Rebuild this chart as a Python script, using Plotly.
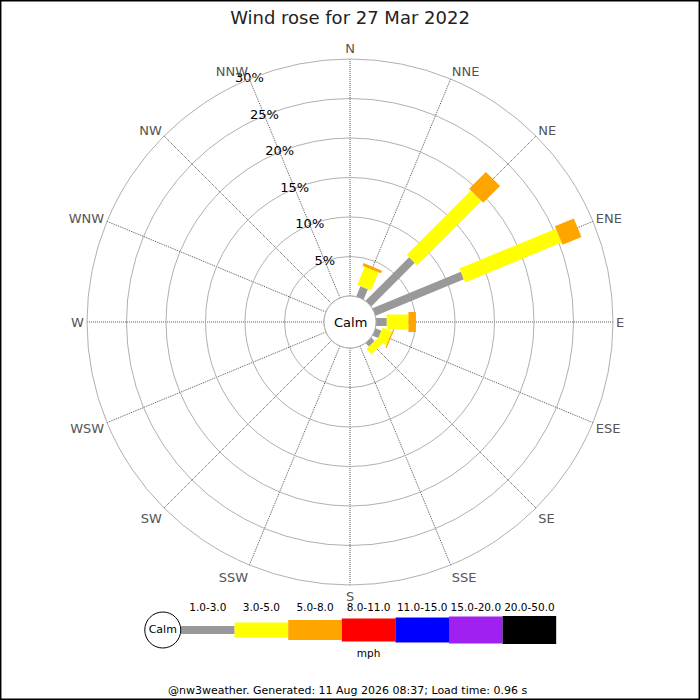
import numpy as np
import plotly.graph_objects as go

# 16 compass points, clockwise from north
directions = ["N", "NNE", "NE", "ENE", "E", "ESE", "SE", "SSE",
              "S", "SSW", "SW", "WSW", "W", "WNW", "NW", "NNW"]
dir_angles = [i * 22.5 for i in range(16)]

# speed bands (mph)
band_labels = ["1.0-3.0", "3.0-5.0", "5.0-8.0", "8.0-11.0",
               "11.0-15.0", "15.0-20.0", "20.0-50.0"]

# percentage of the day in each band, per direction
pct_1_3 = [0, 1.4, 7.8, 12.1, 1.35, 0.8, 0.6, 0, 0, 0, 0, 0, 0, 0, 0, 0]
pct_3_5 = [0, 2.5, 11.5, 13.2, 2.75, 1.3, 0.9, 0, 0, 0, 0, 0, 0, 0, 0, 0]
pct_5_8 = [0, 0.35, 3.0, 2.6, 0.95, 0.15, 0, 0, 0, 0, 0, 0, 0, 0, 0, 0]
pct_8_11 = [0] * 16
pct_11_15 = [0] * 16
pct_15_20 = [0] * 16
pct_20_50 = [0] * 16

radial_ticks = [5, 10, 15, 20, 25, 30]
label_bearing = 337.5  # percent labels run up the NNW spoke

band_pcts = [pct_1_3, pct_3_5, pct_5_8, pct_8_11, pct_11_15, pct_15_20, pct_20_50]
band_colors = ["#999999", "#ffff00", "#ffa500", "#ff0000", "#0000ff", "#a020f0", "#000000"]
band_widths = [8, 15, 20, 23, 25, 27, 28]

FONT = "DejaVu Sans"

fig = go.Figure()

# calm circle outline (hole edge)
ring = np.arange(0, 361, 2)
fig.add_trace(go.Scatterpolar(
    r=[0] * len(ring), theta=ring, mode="lines",
    line=dict(color="#aaaaaa", width=1), hoverinfo="skip", showlegend=False,
))

# stacked bars drawn as thick radial strokes
for d, ang in enumerate(dir_angles):
    base = 0.0
    for b, pcts in enumerate(band_pcts):
        v = pcts[d]
        if v <= 0:
            continue
        fig.add_trace(go.Scatterpolar(
            r=[base, base + v], theta=[ang, ang], mode="lines",
            line=dict(color=band_colors[b], width=band_widths[b]),
            name=f"{directions[d]} {band_labels[b]}",
            hoverinfo="name", showlegend=False,
        ))
        base += v

# percent labels centred on the spoke
fig.add_trace(go.Scatterpolar(
    r=radial_ticks, theta=[label_bearing] * len(radial_ticks), mode="text",
    text=[f"{t}%" for t in radial_ticks], textposition="middle center",
    textfont=dict(family=FONT, size=13, color="#000"),
    hoverinfo="skip", showlegend=False,
))

# legend strip on its own cartesian axes
for b, lab in enumerate(band_labels):
    fig.add_trace(go.Scatter(
        x=[b, b + 1], y=[0, 0], mode="lines",
        line=dict(color=band_colors[b], width=band_widths[b]),
        xaxis="x", yaxis="y", hoverinfo="skip", showlegend=False,
    ))
fig.add_trace(go.Scatter(
    x=[i + 0.5 for i in range(len(band_labels))], y=[0.62] * len(band_labels),
    text=band_labels, mode="text", textfont=dict(family=FONT, size=10.5, color="#000"),
    xaxis="x", yaxis="y", hoverinfo="skip", showlegend=False,
))
fig.add_trace(go.Scatter(
    x=[-0.34], y=[0], mode="markers+text", text=["Calm"], textposition="middle center",
    marker=dict(size=36, color="white", line=dict(color="black", width=1)),
    textfont=dict(family=FONT, size=11, color="#000"),
    xaxis="x", yaxis="y", hoverinfo="skip", showlegend=False,
))
fig.add_trace(go.Scatter(
    x=[3.5], y=[-0.69], text=["mph"], mode="text",
    textfont=dict(family=FONT, size=10.5, color="#000"),
    xaxis="x", yaxis="y", hoverinfo="skip", showlegend=False,
))

fig.update_layout(
    width=700, height=700,
    margin=dict(l=0, r=0, t=0, b=0),
    paper_bgcolor="white", plot_bgcolor="white",
    font=dict(family=FONT, size=13, color="#000"),
    title=dict(text="Wind rose for 27 Mar 2022", x=0.5, xanchor="center",
               y=1 - 18 / 700, yanchor="middle",
               font=dict(family=FONT, size=18, color="#222")),
    polar=dict(
        domain=dict(x=[87 / 700, 613 / 700], y=[115 / 700, 641 / 700]),
        bgcolor="white",
        hole=0.099,
        radialaxis=dict(
            range=[0, 30], tickvals=radial_ticks, showticklabels=False,
            angle=112.5, showline=False, ticks="",
            gridcolor="#b0b0b0", gridwidth=1,
        ),
        angularaxis=dict(
            rotation=90, direction="clockwise",
            tickmode="array", tickvals=dir_angles, ticktext=directions,
            ticks="", showline=True, linecolor="#b0b0b0", linewidth=1,
            gridcolor="#555555", griddash="1px,1px", gridwidth=1,
            tickfont=dict(family=FONT, size=13, color="#555"),
        ),
    ),
    xaxis=dict(domain=[0.2, 0.8], range=[-0.765, 7.071], visible=False, fixedrange=True),
    yaxis=dict(domain=[0.05, 0.15], range=[-1, 1], visible=False, fixedrange=True),
    annotations=[
        dict(text="Calm", x=0.5, y=378 / 700, xref="paper", yref="paper",
             showarrow=False, font=dict(family=FONT, size=13, color="#000")),
        dict(text="@nw3weather. Generated: 11 Aug 2026 08:37; Load time: 0.96 s",
             x=0.497, y=10 / 700, xref="paper", yref="paper", yanchor="middle",
             showarrow=False, font=dict(family=FONT, size=11, color="#000")),
    ],
    shapes=[dict(type="rect", xref="paper", yref="paper", x0=0.001, y0=0.001,
                 x1=0.999, y1=0.999, line=dict(color="black", width=1.5))],
)

# page body has a default margin; drop it so the figure sits at 0,0
fig.write_html("out.html", config={"displayModeBar": False},
               post_script="document.body.style.margin='0';")
